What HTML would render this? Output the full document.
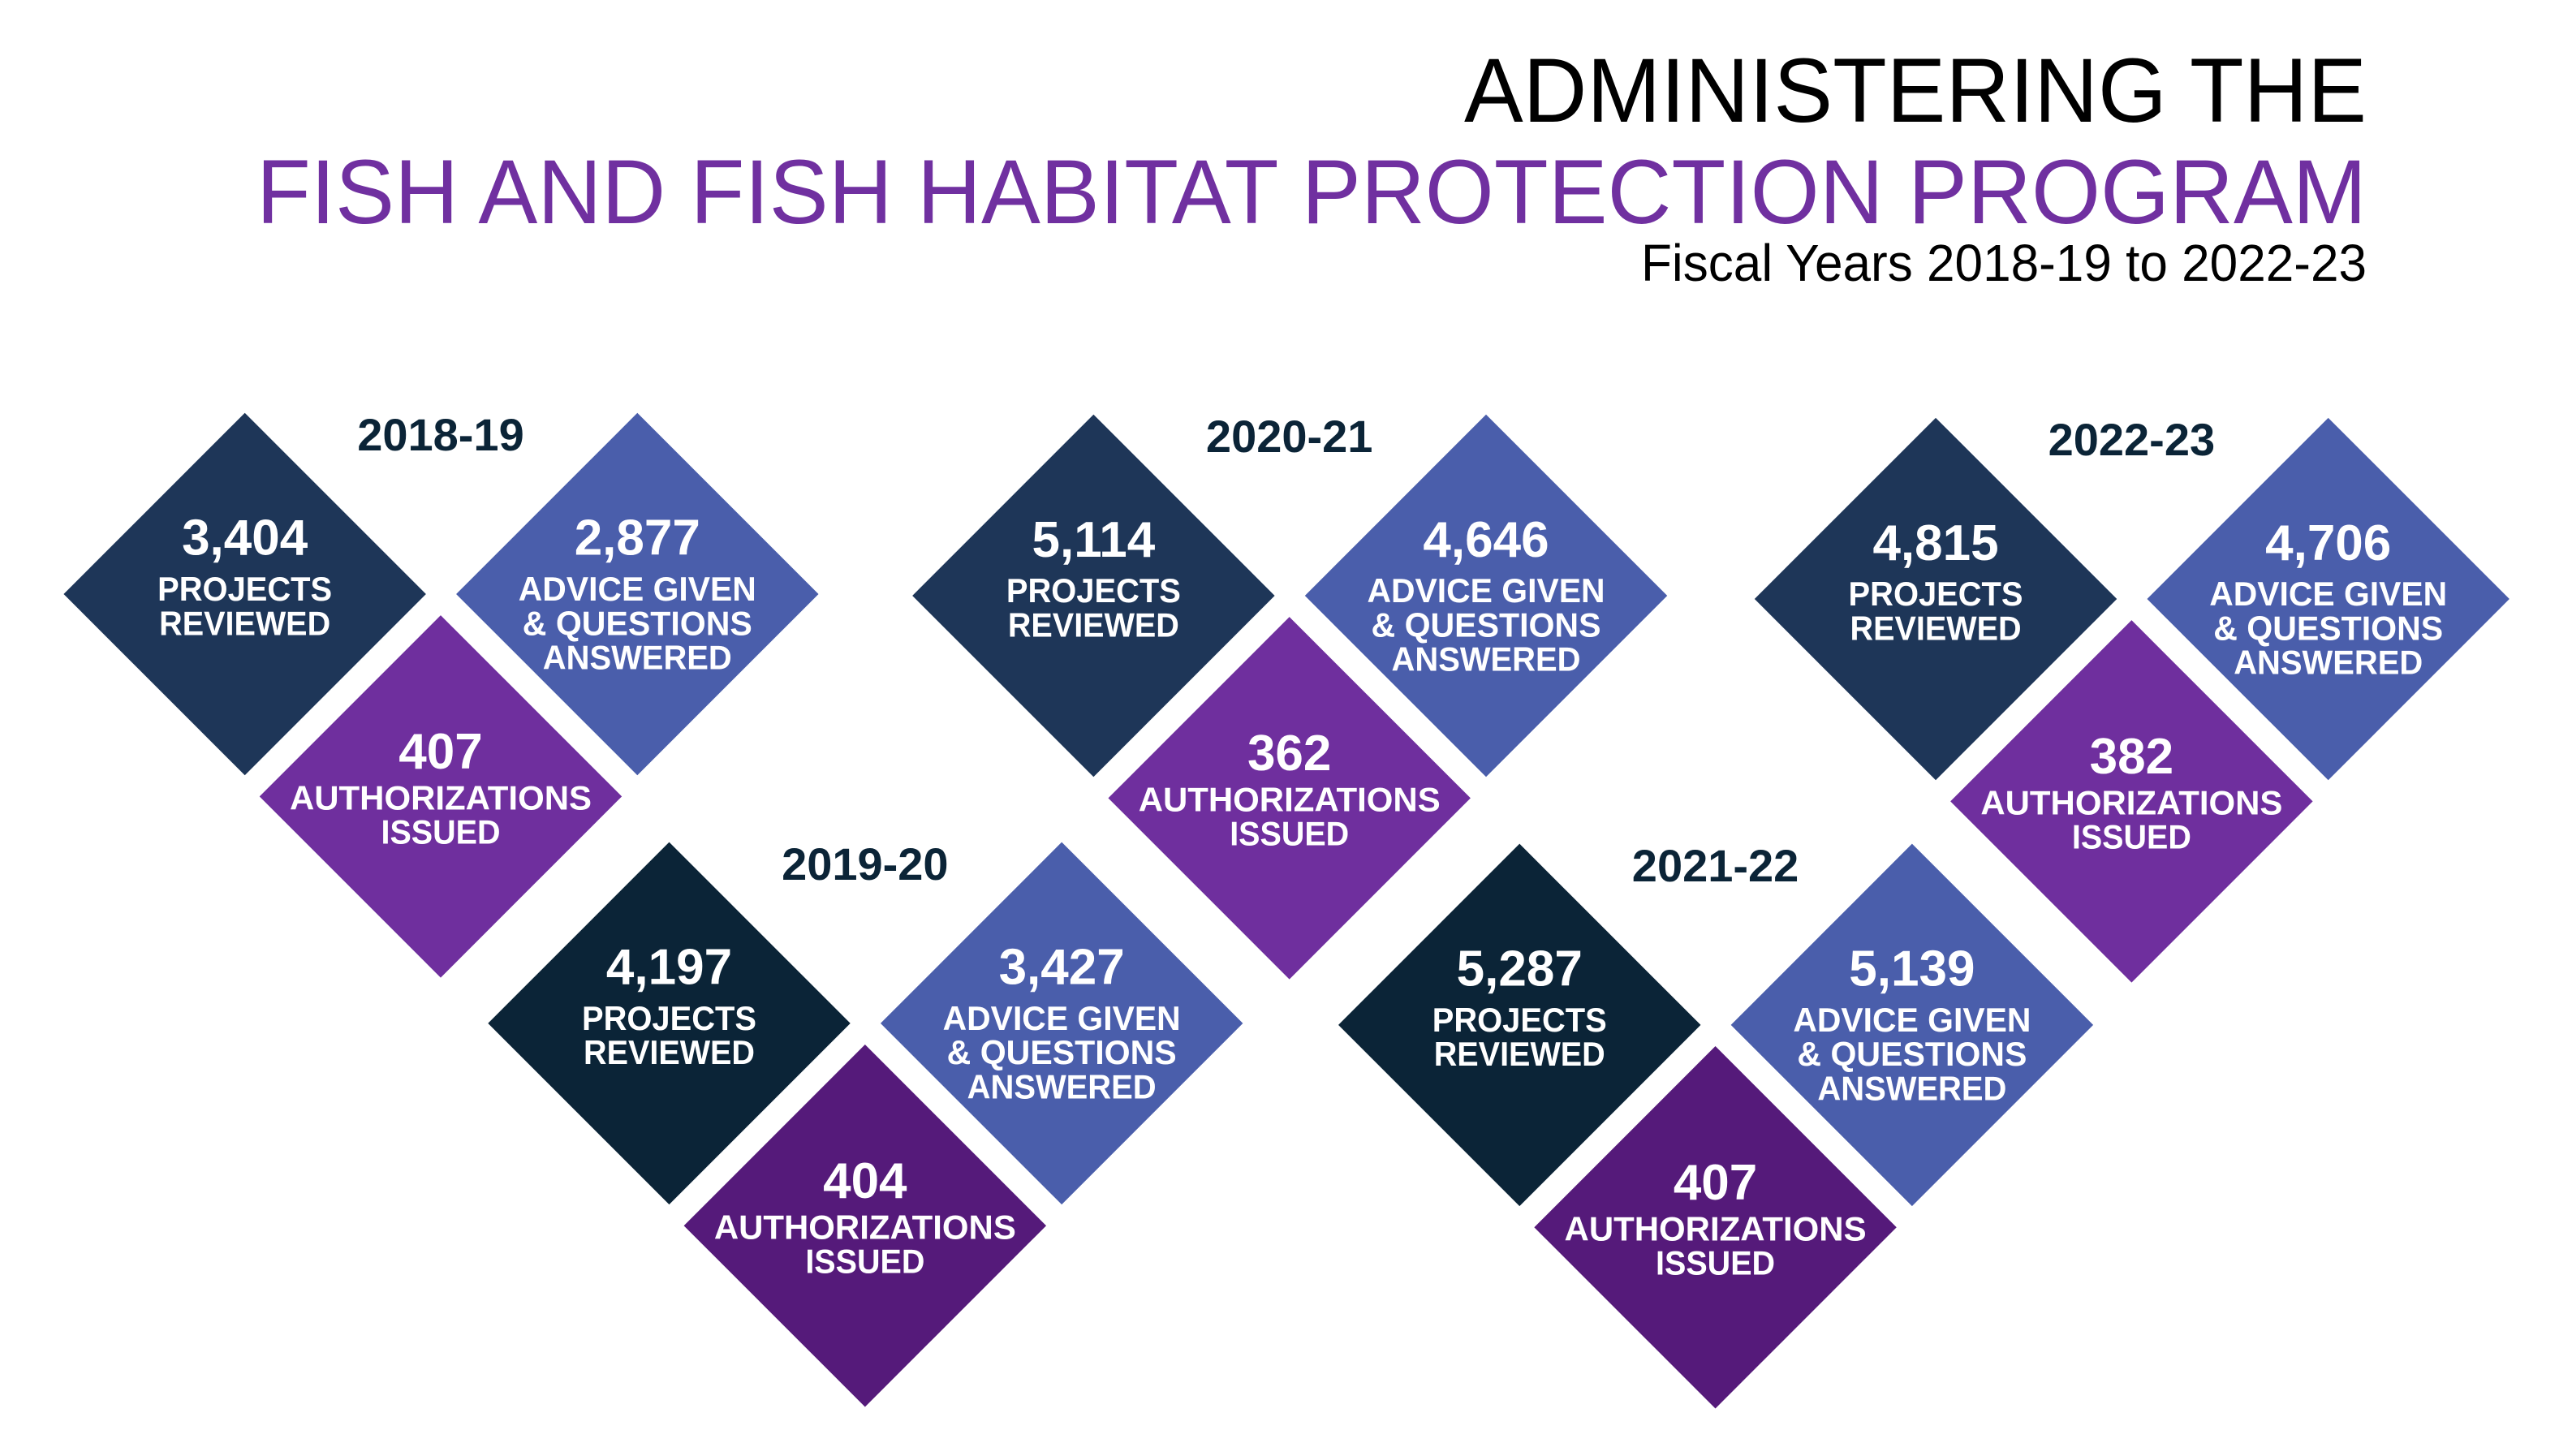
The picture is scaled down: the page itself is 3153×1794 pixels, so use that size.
<!DOCTYPE html>
<html><head><meta charset="utf-8">
<style>
html,body{margin:0;padding:0;background:#fff;}
svg{display:block;}
text{font-family:"Liberation Sans",sans-serif;}
</style></head>
<body>
<svg id="chart" width="3153" height="1794" viewBox="0 0 3153 1794" xmlns="http://www.w3.org/2000/svg">
<rect width="3153" height="1794" fill="#fff"/>
<text x="2916" y="150" text-anchor="end" font-size="112" fill="#000" textLength="1112" lengthAdjust="spacingAndGlyphs">ADMINISTERING THE</text>
<text x="2916" y="275" text-anchor="end" font-size="112" fill="#7030a0" textLength="2600" lengthAdjust="spacingAndGlyphs">FISH AND FISH HABITAT PROTECTION PROGRAM</text>
<text x="2916" y="346" text-anchor="end" font-size="64" fill="#000" textLength="894" lengthAdjust="spacingAndGlyphs">Fiscal Years 2018-19 to 2022-23</text>
<g id="marks"></g>
</svg>
<script>
const years = ["2018-19","2019-20","2020-21","2021-22","2022-23"];
const projectsReviewed = [3404,4197,5114,5287,4815];
const adviceGiven = [2877,3427,4646,5139,4706];
const authorizationsIssued = [407,404,362,407,382];

const S = 2.011;
const groupX = [150,410,670,931,1186];
const groupY = [364,627,365,628,367];
const H = 111*S;
const projColors = ["#1e3658","#0b2437","#1e3658","#0b2437","#1e3658"];
const authColors = ["#6f2f9e","#551a7a","#6f2f9e","#551a7a","#6f2f9e"];
const adviceColor = "#4a5eab";
const NS = "http://www.w3.org/2000/svg";
const g = document.getElementById('marks');
const widths = {"PROJECTS":215,"REVIEWED":211,"ADVICE GIVEN":293,"& QUESTIONS":283,"ANSWERED":233,"AUTHORIZATIONS":372,"ISSUED":147};
function fmt(n){return n.toLocaleString('en-US');}
function diamond(cx,cy,color,name){
  const p=document.createElementNS(NS,'polygon');
  p.setAttribute('points',`${cx},${cy-H} ${cx+H},${cy} ${cx},${cy+H} ${cx-H},${cy}`);
  p.setAttribute('fill',color);
  
  
  g.appendChild(p);
}
function txt(x,y,s,size,fill,name,len){
  const t=document.createElementNS(NS,'text');
  t.setAttribute('x',x);t.setAttribute('y',y);
  t.setAttribute('text-anchor','middle');
  t.setAttribute('font-size',size);
  t.setAttribute('font-weight','bold');
  t.setAttribute('fill',fill);
  if(len){t.setAttribute('textLength',len);t.setAttribute('lengthAdjust','spacingAndGlyphs');}
  t.textContent=s;
  
  
  g.appendChild(t);
}
function block(cx,cy,val,lines,numOff,lineOffs,name){
  txt(cx,cy+numOff,fmt(val),62,"#fff",name+'-value');
  lines.forEach((l,i)=>txt(cx,cy+lineOffs[i],l,42,"#fff",name+'-label',widths[l]));
}
years.forEach((y,i)=>{
  const px=groupX[i]*S, py=groupY[i]*S;
  const ax=px+240.5*S, ay=py;
  const ux=px+120*S, uy=py+124*S;
  diamond(px,py,projColors[i],'projects-diamond-'+y);
  diamond(ax,ay,adviceColor,'advice-diamond-'+y);
  diamond(ux,uy,authColors[i],'authorizations-diamond-'+y);
  txt(ux,py-98*S+20,y,56,"#0b2437",'year-label-'+y);
  block(px,py,projectsReviewed[i],["PROJECTS","REVIEWED"],-24*S,[4*S,25*S],'projects-'+y);
  block(ax,ay,adviceGiven[i],["ADVICE GIVEN","& QUESTIONS","ANSWERED"],-24*S,[4*S,25*S,46*S],'advice-'+y);
  block(ux,uy,authorizationsIssued[i],["AUTHORIZATIONS","ISSUED"],-17*S,[8*S,29*S],'authorizations-'+y);
});
</script>
</body></html>
